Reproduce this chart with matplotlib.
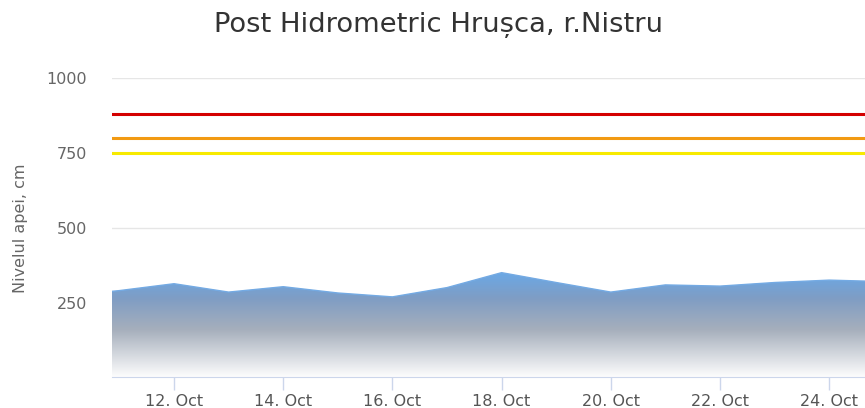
import numpy as np
import matplotlib.pyplot as plt
import matplotlib.dates as mdates
from matplotlib.colors import LinearSegmentedColormap
from datetime import datetime

# data (water level, cm), one value per day
days = ['2019-10-10', '2019-10-11', '2019-10-12', '2019-10-13', '2019-10-14',
        '2019-10-15', '2019-10-16', '2019-10-17', '2019-10-18', '2019-10-19',
        '2019-10-20', '2019-10-21', '2019-10-22', '2019-10-23', '2019-10-24',
        '2019-10-25']
level = [272, 290, 313, 285, 303, 282, 269, 300, 350, 317, 285, 309, 305, 317, 325, 320]
thresholds = [880, 800, 750]
thr_colors = ['#d40000', '#f29a12', '#f7ea00']

x = mdates.date2num([datetime.strptime(d, '%Y-%m-%d') for d in days])
y = np.array(level)

plt.rcParams['font.family'] = ['DejaVu Sans']
fig = plt.figure(figsize=(8.65, 4.08), dpi=100)
ax = fig.add_axes([112/865, 30.7/408, 1 - 112/865, (377.3-78.3)/408])

x0 = mdates.date2num(datetime(2019, 10, 12)) - 1.136
x1 = mdates.date2num(datetime(2019, 10, 12)) + 12.656

# gradient filled area
cmap = LinearSegmentedColormap.from_list('g', [(0.0, '#fdfdfd'), (0.45, '#a6afbc'),
                                               (0.75, '#7f9dc4'), (1.0, '#6aa8e6')])
poly = ax.fill_between(x, y, 0, color='none', lw=0)
grad = np.linspace(0, 1, 256).reshape(-1, 1)
im = ax.imshow(grad, cmap=cmap, origin='lower', aspect='auto',
               extent=[x[0], x[-1], 0, y.max()], zorder=2)
im.set_clip_path(poly.get_paths()[0], transform=ax.transData)
ax.plot(x, y, color='#74aae3', lw=1.0, zorder=3)
ax.set_xlim(x0, x1)
ax.set_ylim(0, 1000)

for t, c in zip(thresholds, thr_colors):
    ax.axhline(t, color=c, lw=2.2, zorder=4)

ax.set_yticks([250, 500, 750, 1000])
ax.yaxis.grid(True, color='#e6e6e6', lw=1)
ax.set_axisbelow(True)
ax.tick_params(axis='y', length=0, pad=18, labelsize=11.5, labelcolor='#666666')

ax.xaxis.set_major_locator(mdates.DayLocator(bymonthday=[12, 14, 16, 18, 20, 22, 24]))
ax.xaxis.set_major_formatter(mdates.DateFormatter('%d. %b'))
ax.tick_params(axis='x', length=9, width=1, color='#ccd6eb', pad=3,
               labelsize=11.5, labelcolor='#555555')

for s in ['top', 'right', 'left']:
    ax.spines[s].set_visible(False)
ax.spines['bottom'].set_color('#ccd6eb')

ax.set_ylabel('Nivelul apei, cm', fontsize=11.5, color='#666666', labelpad=13)
fig.text(438/865, 1 - 25/408, 'Post Hidrometric Hrușca, r.Nistru', fontsize=19.7,
         color='#333333', ha='center', va='center')

plt.savefig('out.png', dpi=100)
